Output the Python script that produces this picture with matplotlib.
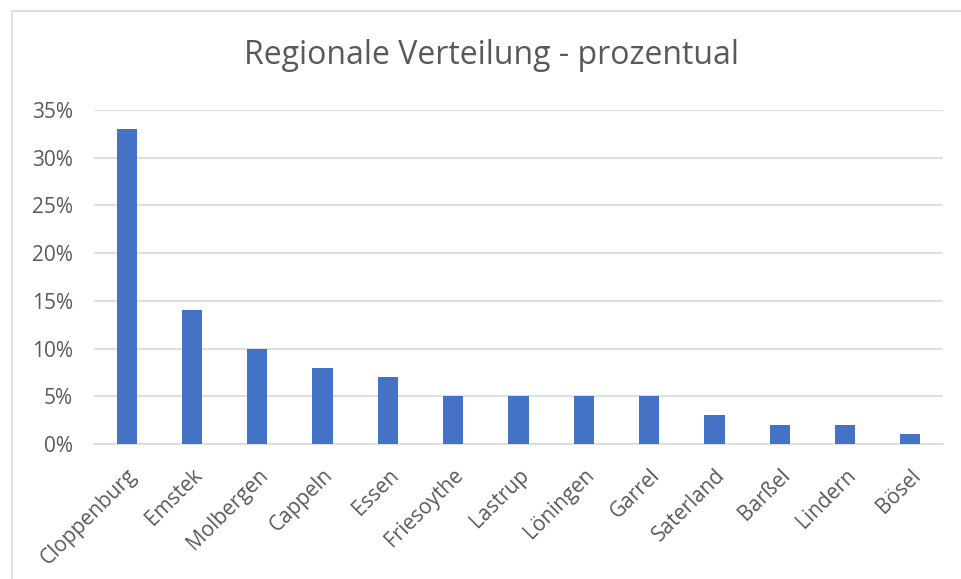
import matplotlib.pyplot as plt
from matplotlib.patches import Rectangle
from matplotlib.ticker import PercentFormatter

orte = ['Cloppenburg', 'Emstek', 'Molbergen', 'Cappeln', 'Essen', 'Friesoythe',
        'Lastrup', 'Löningen', 'Garrel', 'Saterland', 'Barßel', 'Lindern', 'Bösel']
anteil = [33, 14, 10, 8, 7, 5, 5, 5, 5, 3, 2, 2, 1]  # percent
y_ticks = [0, 5, 10, 15, 20, 25, 30, 35]

text_grey = '#595959'
plt.rcParams['font.family'] = ['Open Sans', 'DejaVu Sans']

fig = plt.figure(figsize=(9.61, 5.79), dpi=100)
# light frame of the chart area (cropped at right and bottom)
fig.patches.append(Rectangle((12 / 961, -0.1), 1.2, 1 - 11 / 579 + 0.1,
                             transform=fig.transFigure, fill=False,
                             edgecolor='#D9D9D9', linewidth=1.2))

ax = fig.add_axes([94 / 961, 1 - 444 / 579, (943 - 94) / 961, (444 - 110) / 579])
x = range(len(orte))
ax.bar(x, anteil, width=0.31, color='#4472C4', zorder=3)

ax.set_xlim(-0.5, len(orte) - 0.5)
ax.set_ylim(0, 35)
ax.set_yticks(y_ticks)
ax.yaxis.set_major_formatter(PercentFormatter(decimals=0))
ax.grid(axis='y', color='#D9D9D9', linewidth=1.2, zorder=0)
for s in ['top', 'right', 'left']:
    ax.spines[s].set_visible(False)
ax.spines['bottom'].set_color('#D9D9D9')
ax.spines['bottom'].set_linewidth(1.2)
ax.tick_params(length=0, labelsize=15, colors=text_grey)
ax.tick_params(axis='y', pad=15)
ax.tick_params(axis='x', pad=15)
ax.set_xticks(list(x))
ax.set_xticklabels(orte, rotation=45, ha='right', rotation_mode='anchor')

fig.text(492 / 961, 1 - 56 / 579, 'Regionale Verteilung - prozentual',
         ha='center', va='center', fontsize=23, color=text_grey)

fig.savefig('out.png', dpi=100)
